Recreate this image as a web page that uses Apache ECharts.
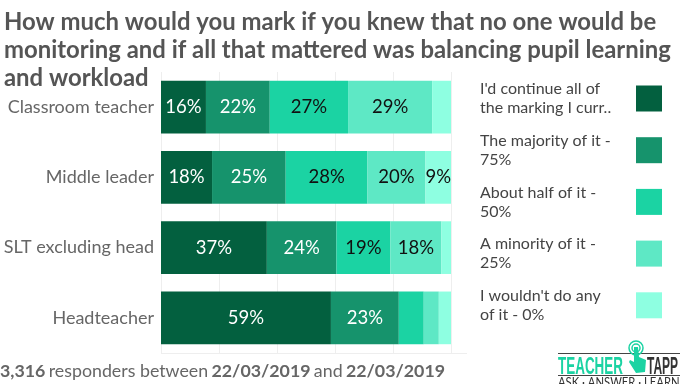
<!DOCTYPE html>
<html>
<head>
<meta charset="utf-8">
<style>
  html, body { margin: 0; padding: 0; background: #fff; }
  #chart { width: 684px; height: 384px; }
</style>
<script src="https://cdn.jsdelivr.net/npm/echarts@6/dist/echarts.min.js"></script>
</head>
<body>
<div id="chart"></div>
<script>
const categories = ['Classroom teacher', 'Middle leader', 'SLT excluding head', 'Headteacher'];
const continueAll = [15.5, 17.6, 36.5, 58.6];
const majority = [22, 25.4, 24, 23.4];
const half = [27, 28.2, 18.6, 8.6];
const minority = [29, 20, 17.6, 5.2];
const none = [6.5, 8.8, 3.3, 4.2];

const seriesNames = [
  "I'd continue all of\nthe marking I curr..",
  'The majority of it -\n75%',
  'About half of it -\n50%',
  'A minority of it -\n25%',
  "I wouldn't do any\nof it - 0%"
];
const seriesValues = [continueAll, majority, half, minority, none];
const colors = ['#03603f', '#16936c', '#1bd3a3', '#5ee8c5', '#8effe1'];
const labelColors = ['#fff', '#fff', '#111', '#111', '#111'];

const FONT = 'Lato';
const LOGO_FONT = 'Liberation Sans';

let chart = echarts.init(document.getElementById('chart'), null, {renderer: 'canvas'});

const option = {
  animation: false,
  backgroundColor: '#fff',
  textStyle: {fontFamily: FONT},
  title: {
    text: 'How much would you mark if you knew that no one would be\nmonitoring and if all that mattered was balancing pupil learning\nand workload',
    left: 4,
    top: 8,
    padding: 0,
    textStyle: {
      fontFamily: FONT,
      fontSize: 23.9,
      fontWeight: 'bold',
      lineHeight: 28,
      color: '#555555'
    }
  },
  grid: {left: 161, right: 233, top: 72, bottom: 31},
  xAxis: {
    type: 'value',
    min: 0,
    max: 100,
    interval: 20,
    axisLabel: {show: false},
    axisTick: {show: false},
    axisLine: {show: false},
    splitLine: {lineStyle: {color: '#eeeeee', width: 1}}
  },
  yAxis: {
    type: 'category',
    inverse: true,
    data: categories,
    axisTick: {show: false},
    axisLine: {show: false},
    axisLabel: {
      fontFamily: FONT,
      fontSize: 18,
      color: '#666666',
      margin: 7
    }
  },
  legend: {
    orient: 'vertical',
    left: 480,
    top: 81,
    padding: 0,
    align: 'right',
    icon: 'rect',
    itemWidth: 26,
    itemHeight: 26,
    itemGap: 16.7,
    selectedMode: false,
    data: seriesNames,
    formatter: function (name) {
      return name.split('\n').map(function (line) {
        return '{a|' + line + '}';
      }).join('\n');
    },
    textStyle: {
      rich: {
        a: {
          fontFamily: FONT,
          fontSize: 16,
          lineHeight: 19,
          color: '#444444',
          width: 151,
          align: 'left'
        }
      }
    }
  },
  series: seriesValues.map(function (values, i) {
    return {
      name: seriesNames[i],
      type: 'bar',
      stack: 'total',
      barCategoryGap: '25%',
      data: values,
      itemStyle: {color: colors[i]},
      label: {
        show: true,
        position: 'inside',
        fontFamily: FONT,
        fontSize: 18.5,
        color: labelColors[i],
        formatter: function (p) {
          return p.value < 8.7 ? '' : Math.round(p.value) + '%';
        }
      }
    };
  }),
  graphic: [
    {
      type: 'line',
      shape: {x1: 161, y1: 353.5, x2: 467, y2: 353.5},
      style: {stroke: '#eeeeee', lineWidth: 1}
    },
    {
      type: 'text',
      left: 0,
      top: 362,
      style: {
        text: '{b|3,316} {r|responders between} {b|22/03/2019} {r|and} {b|22/03/2019}',
        rich: {
          b: {fontFamily: FONT, fontSize: 17.8, fontWeight: 'bold', fill: '#666666', color: '#666666'},
          r: {fontFamily: FONT, fontSize: 17.8, fill: '#666666', color: '#666666'}
        }
      }
    },
    // logo
    {
      type: 'line',
      shape: {x1: 558, y1: 353.5, x2: 680, y2: 353.5},
      style: {stroke: '#444444', lineWidth: 1}
    },
    {
      type: 'line',
      shape: {x1: 558, y1: 375.5, x2: 680, y2: 375.5},
      style: {stroke: '#444444', lineWidth: 1}
    },
    {
      type: 'text',
      x: 558,
      y: 355,
      scaleX: 0.56,
      style: {text: 'TEACHER', fontFamily: LOGO_FONT, fontSize: 24, fontWeight: 'bold', fill: '#1bd3a3'}
    },
    {
      type: 'text',
      x: 647,
      y: 355,
      scaleX: 0.5,
      style: {text: 'TAPP', fontFamily: LOGO_FONT, fontSize: 24, fontWeight: 'bold', fill: '#333333'}
    },
    {
      type: 'text',
      x: 558,
      y: 376,
      scaleX: 0.9,
      style: {text: 'ASK · ANSWER · LEARN', fontFamily: FONT, fontSize: 12.5, fill: '#333333'}
    },
    {
      type: 'circle',
      shape: {cx: 636, cy: 348, r: 7},
      style: {fill: 'none', stroke: '#1bd3a3', lineWidth: 1.5}
    },
    {
      type: 'circle',
      shape: {cx: 636, cy: 348, r: 4},
      style: {fill: 'none', stroke: '#1bd3a3', lineWidth: 1.5}
    },
    {
      type: 'polygon',
      shape: {points: [[634, 347], [638, 347], [639, 357], [646, 360], [645, 372], [636, 373], [629, 362], [630, 360], [634, 362]]},
      style: {fill: '#1bd3a3'}
    }
  ]
};

chart.setOption(option);
</script>
</body>
</html>
